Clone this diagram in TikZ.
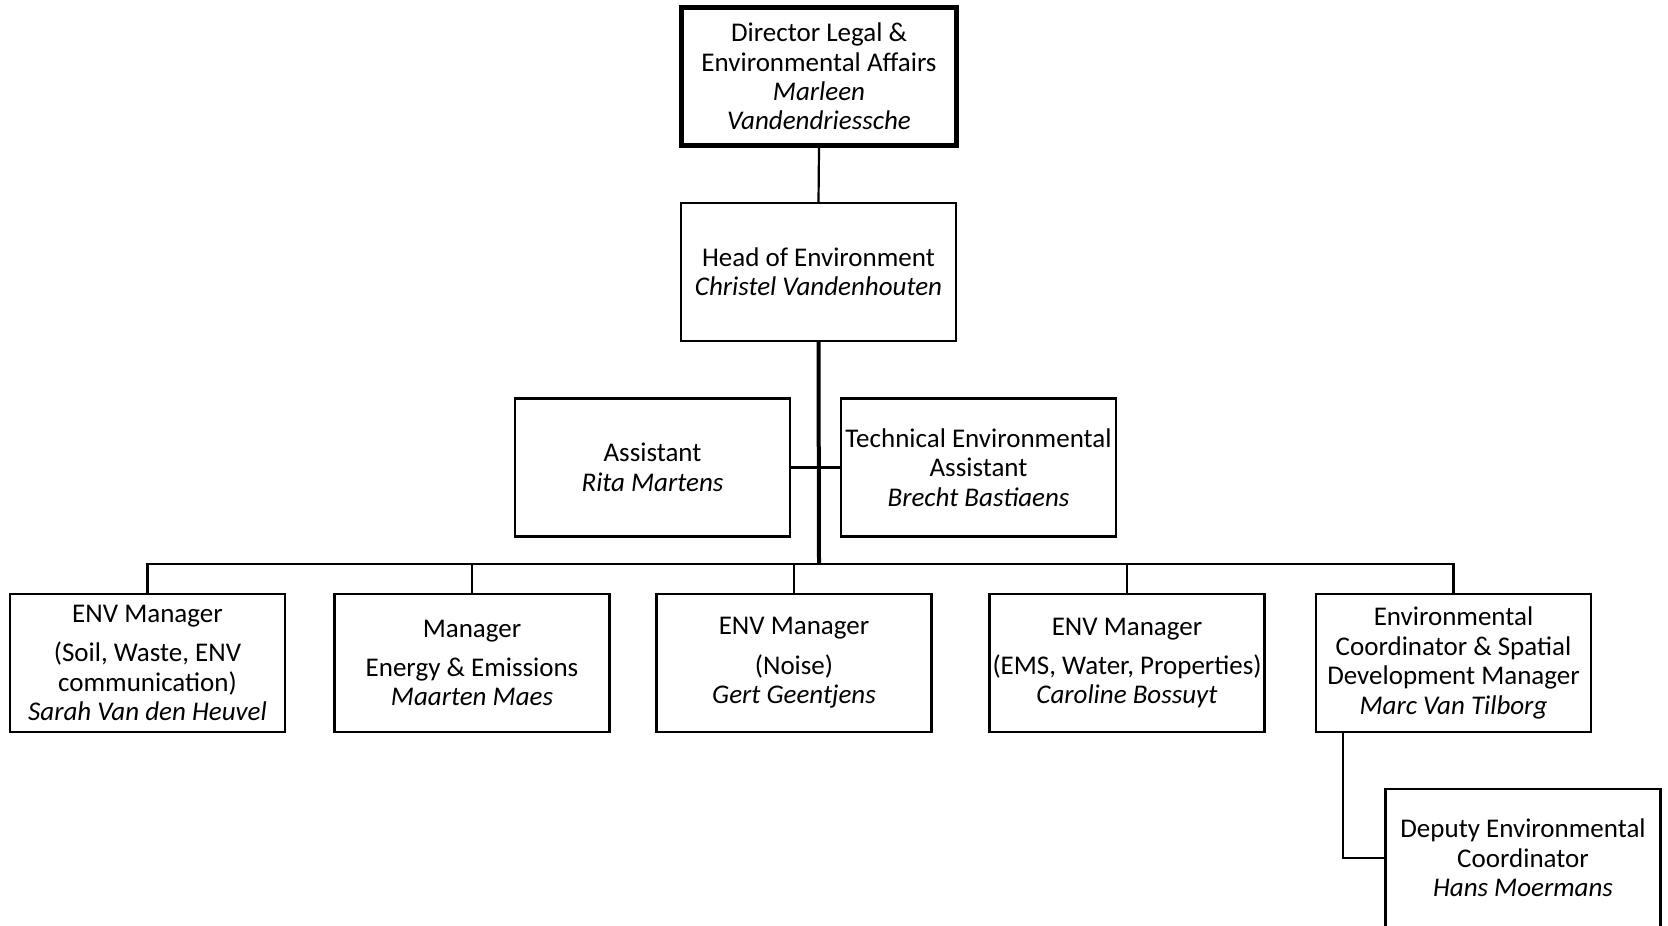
\documentclass[tikz,border=0pt]{standalone}
\usepackage{fontspec}
\setmainfont{Carlito}
\usetikzlibrary{calc}
\begin{document}
\begin{tikzpicture}[x=0.5pt,y=-0.5pt,
  box/.style={draw=black,line width=1.1pt,fill=white,minimum width=137.5pt,minimum height=69pt,
    inner sep=0pt,align=center,font=\fontsize{13.5}{14.7}\selectfont},
  topbox/.style={box,line width=2.3pt},
  link/.style={draw=black,line width=1.1pt},
  trunk/.style={draw=black,line width=2pt}]
\useasboundingbox (0,0) rectangle (1668,925);
\node[topbox] (dir) at (819,76.5) {Director Legal \&\\Environmental Affairs\\\textit{Marleen}\\\textit{Vandendriessche}};
\node[box] (head) at (818.5,272) {Head of Environment\\\textit{Christel Vandenhouten}};
\node[box] (asst) at (652.5,467.5) {Assistant\\\textit{Rita Martens}};
\node[box] (tech) at (978.5,467.5) {Technical Environmental\\Assistant\\\textit{Brecht Bastiaens}};
\node[box] (m1) at (147.5,663) {ENV Manager\\[5pt](Soil, Waste, ENV\\communication)\\\textit{Sarah Van den Heuvel}};
\node[box] (m2) at (472,663) {Manager\\[5pt]Energy \& Emissions\\\textit{Maarten Maes}};
\node[box] (m3) at (794,663) {ENV Manager\\[5pt](Noise)\\\textit{Gert Geentjens}};
\node[box] (m4) at (1127,663) {ENV Manager\\[5pt](EMS, Water, Properties)\\\textit{Caroline Bossuyt}};
\node[box] (m5) at (1453.5,663) {Environmental\\Coordinator \& Spatial\\Development Manager\\\textit{Marc Van Tilborg}};
\node[box] (dep) at (1523,858) {Deputy Environmental\\Coordinator\\\textit{Hans Moermans}};
\coordinate (bus) at (819,564);
\coordinate (sub) at ($(m5.south west)+(28,0)$);
\draw[link] (dir.south) -- (head.north);
\draw[trunk] (head.south) -- (bus);
\draw[link] (asst.east) -- (tech.west);
\draw[link] (m1.north) |- (bus) -| (m5.north);
\draw[link] (m2.north) -- (m2.north |- bus);
\draw[link] (m3.north) -- (m3.north |- bus);
\draw[link] (m4.north) -- (m4.north |- bus);
\draw[link] (sub) |- (dep.west);
\end{tikzpicture}
\end{document}
